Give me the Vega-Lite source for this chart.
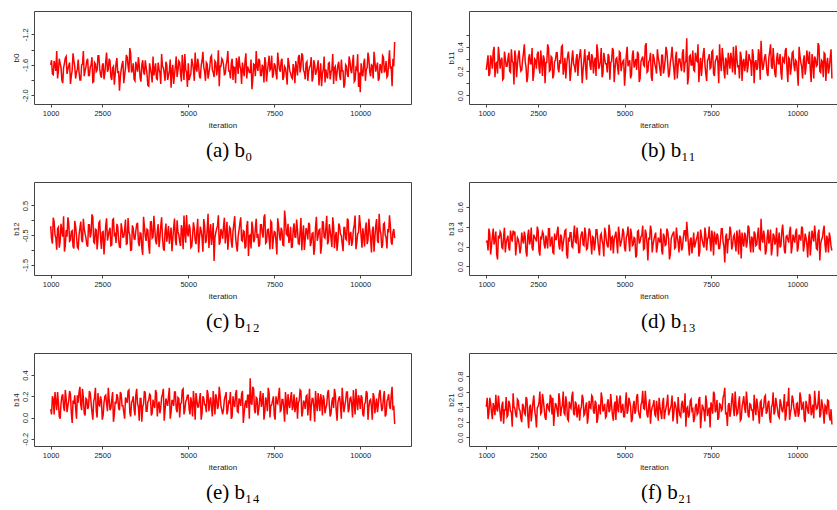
{
"$schema":"https://vega.github.io/schema/vega-lite/v6.json",
"autosize":"pad",
"padding":{"left":11,"top":10,"right":0,"bottom":0},
"background":"white",
"data":{"values":[
{"i":1000,"a":-1.60,"b":0.21,"c":-0.20,"d":0.24,"e":0.08,"f":0.40},
{"i":1050,"a":-1.72,"b":0.33,"c":-0.78,"d":0.16,"e":0.20,"f":0.24},
{"i":1100,"a":-1.55,"b":0.18,"c":-0.05,"d":0.33,"e":0.03,"f":0.52},
{"i":1150,"a":-1.68,"b":0.29,"c":-0.60,"d":0.21,"e":0.15,"f":0.33},
{"i":1200,"a":-1.78,"b":0.36,"c":-0.28,"d":0.38,"e":0.24,"f":0.45},
{"i":1250,"a":-1.52,"b":0.15,"c":-0.92,"d":0.27,"e":0.01,"f":0.29},
{"i":1300,"a":-1.63,"b":0.27,"c":-0.12,"d":0.12,"e":0.13,"f":0.38},
{"i":1350,"a":-1.84,"b":0.40,"c":-0.55,"d":0.31,"e":0.22,"f":0.55},
{"i":1400,"a":-1.58,"b":0.22,"c":-1.05,"d":0.35,"e":0.06,"f":0.31},
{"i":1450,"a":-1.49,"b":0.31,"c":-0.33,"d":0.19,"e":0.18,"f":0.42},
{"i":1500,"a":-1.66,"b":0.14,"c":0.10,"d":0.30,"e":0.11,"f":0.18},
{"i":1550,"a":-1.57,"b":0.30,"c":-0.70,"d":0.14,"e":0.25,"f":0.36},
{"i":1600,"a":-1.75,"b":0.24,"c":-0.38,"d":0.28,"e":0.04,"f":0.27},
{"i":1650,"a":-1.45,"b":0.35,"c":-0.88,"d":0.19,"e":0.16,"f":0.48},
{"i":1700,"a":-1.62,"b":0.19,"c":-0.02,"d":0.36,"e":0.21,"f":0.34},
{"i":1750,"a":-1.70,"b":0.28,"c":-0.52,"d":0.25,"e":-0.01,"f":0.14},
{"i":1800,"a":-1.53,"b":0.09,"c":-0.95,"d":0.33,"e":0.14,"f":0.40},
{"i":1850,"a":-1.80,"b":0.32,"c":-0.25,"d":0.11,"e":0.29,"f":0.30},
{"i":1900,"a":-1.60,"b":0.25,"c":-0.66,"d":0.29,"e":0.07,"f":0.50},
{"i":1950,"a":-1.42,"b":0.37,"c":0.05,"d":0.22,"e":0.19,"f":0.37},
{"i":2000,"a":-1.68,"b":0.20,"c":-0.45,"d":0.19,"e":0.02,"f":0.25},
{"i":2050,"a":-1.55,"b":0.29,"c":-0.82,"d":0.27,"e":0.17,"f":0.44},
{"i":2100,"a":-1.74,"b":0.42,"c":-0.15,"d":0.35,"e":0.10,"f":0.32},
{"i":2150,"a":-1.63,"b":0.23,"c":-0.58,"d":0.14,"e":0.23,"f":0.53},
{"i":2200,"a":-1.50,"b":0.16,"c":0.20,"d":0.31,"e":0.05,"f":0.28},
{"i":2250,"a":-1.82,"b":0.34,"c":-0.73,"d":0.22,"e":0.15,"f":0.39},
{"i":2300,"a":-1.59,"b":0.26,"c":-0.30,"d":0.39,"e":0.28,"f":0.21},
{"i":2350,"a":-1.67,"b":0.12,"c":-0.98,"d":0.16,"e":0.00,"f":0.46},
{"i":2400,"a":-1.48,"b":0.30,"c":-0.08,"d":0.29,"e":0.12,"f":0.35},
{"i":2450,"a":-1.73,"b":0.22,"c":-0.62,"d":0.25,"e":0.20,"f":0.13},
{"i":2500,"a":-1.61,"b":0.36,"c":-0.40,"d":0.36,"e":-0.02,"f":0.41},
{"i":2550,"a":-1.79,"b":0.18,"c":-1.15,"d":0.11,"e":0.14,"f":0.60},
{"i":2600,"a":-1.56,"b":0.28,"c":-0.18,"d":0.28,"e":0.21,"f":0.33},
{"i":2650,"a":-1.69,"b":0.33,"c":-0.68,"d":0.33,"e":0.06,"f":0.49},
{"i":2700,"a":-1.52,"b":0.10,"c":-0.35,"d":0.18,"e":0.17,"f":0.26},
{"i":2750,"a":-1.76,"b":0.27,"c":-0.85,"d":0.26,"e":0.09,"f":0.43},
{"i":2800,"a":-1.64,"b":0.39,"c":0.02,"d":0.38,"e":0.24,"f":0.37},
{"i":2850,"a":-1.86,"b":0.21,"c":-0.50,"d":0.20,"e":0.03,"f":0.56},
{"i":2900,"a":-1.58,"b":0.31,"c":-0.76,"d":0.30,"e":0.13,"f":0.30},
{"i":2950,"a":-1.71,"b":0.17,"c":-0.22,"d":0.13,"e":0.19,"f":0.15},
{"i":3000,"a":-1.94,"b":0.29,"c":-0.90,"d":0.27,"e":0.07,"f":0.45},
{"i":3050,"a":-1.66,"b":0.35,"c":-0.10,"d":0.35,"e":0.22,"f":0.35},
{"i":3100,"a":-1.55,"b":0.19,"c":-0.57,"d":0.21,"e":0.11,"f":0.58},
{"i":3150,"a":-1.74,"b":0.26,"c":-0.32,"d":0.32,"e":-0.01,"f":0.28},
{"i":3200,"a":-1.47,"b":0.41,"c":-0.80,"d":0.15,"e":0.16,"f":0.42},
{"i":3250,"a":-1.62,"b":0.23,"c":0.08,"d":0.29,"e":0.25,"f":0.32},
{"i":3300,"a":-1.38,"b":0.14,"c":-0.48,"d":0.37,"e":0.05,"f":0.54},
{"i":3350,"a":-1.70,"b":0.32,"c":-1.00,"d":0.08,"e":0.14,"f":0.24},
{"i":3400,"a":-1.58,"b":0.28,"c":-0.26,"d":0.25,"e":0.20,"f":0.47},
{"i":3450,"a":-1.81,"b":0.20,"c":-0.64,"d":0.34,"e":0.02,"f":0.38},
{"i":3500,"a":-1.63,"b":0.37,"c":-0.14,"d":0.19,"e":0.27,"f":0.60},
{"i":3550,"a":-1.50,"b":0.24,"c":-0.74,"d":0.41,"e":0.10,"f":0.29},
{"i":3600,"a":-1.77,"b":0.30,"c":-0.42,"d":0.24,"e":0.18,"f":0.44},
{"i":3650,"a":-1.60,"b":0.16,"c":-0.94,"d":0.30,"e":-0.04,"f":0.36},
{"i":3700,"a":-1.69,"b":0.33,"c":0.12,"d":0.14,"e":0.13,"f":0.22},
{"i":3750,"a":-1.54,"b":0.27,"c":-0.53,"d":0.33,"e":0.23,"f":0.40},
{"i":3800,"a":-1.72,"b":0.21,"c":-0.30,"d":0.22,"e":0.06,"f":0.51},
{"i":3850,"a":-1.88,"b":0.38,"c":-0.86,"d":0.39,"e":0.16,"f":0.31},
{"i":3900,"a":-1.65,"b":0.13,"c":-0.06,"d":0.17,"e":0.21,"f":0.46},
{"i":3950,"a":-1.83,"b":0.29,"c":-0.60,"d":0.28,"e":0.04,"f":0.27},
{"i":4000,"a":-1.74,"b":0.25,"c":0.15,"d":0.36,"e":0.12,"f":0.39},
{"i":4050,"a":-1.58,"b":0.34,"c":-0.69,"d":0.12,"e":0.26,"f":0.55},
{"i":4100,"a":-1.79,"b":0.18,"c":-0.36,"d":0.29,"e":0.01,"f":0.34},
{"i":4150,"a":-1.66,"b":0.31,"c":-0.90,"d":0.23,"e":0.15,"f":0.48},
{"i":4200,"a":-1.85,"b":0.42,"c":-0.19,"d":0.37,"e":0.09,"f":0.19},
{"i":4250,"a":-1.62,"b":0.22,"c":-0.56,"d":0.18,"e":0.22,"f":0.43},
{"i":4300,"a":-1.71,"b":0.28,"c":-1.02,"d":0.31,"e":-0.03,"f":0.30},
{"i":4350,"a":-1.56,"b":0.15,"c":-0.11,"d":0.26,"e":0.18,"f":0.52},
{"i":4400,"a":-1.80,"b":0.35,"c":-0.47,"d":0.10,"e":0.11,"f":0.37},
{"i":4450,"a":-1.68,"b":0.26,"c":-0.79,"d":0.34,"e":0.28,"f":0.26},
{"i":4500,"a":-1.90,"b":0.19,"c":-0.24,"d":0.21,"e":0.05,"f":0.45},
{"i":4550,"a":-1.60,"b":0.32,"c":-0.63,"d":0.42,"e":0.16,"f":0.33},
{"i":4600,"a":-1.73,"b":0.27,"c":0.06,"d":0.16,"e":0.24,"f":0.57},
{"i":4650,"a":-1.49,"b":0.39,"c":-0.84,"d":0.30,"e":0.08,"f":0.29},
{"i":4700,"a":-1.67,"b":0.11,"c":-0.39,"d":0.27,"e":0.19,"f":0.41},
{"i":4750,"a":-1.57,"b":0.30,"c":-0.72,"d":0.35,"e":0.00,"f":0.23},
{"i":4800,"a":-1.82,"b":0.23,"c":-0.16,"d":0.13,"e":0.14,"f":0.38},
{"i":4850,"a":-1.64,"b":0.36,"c":-0.97,"d":0.32,"e":0.27,"f":0.50},
{"i":4900,"a":-1.46,"b":0.20,"c":-0.44,"d":0.24,"e":0.07,"f":0.32},
{"i":4950,"a":-1.70,"b":0.28,"c":0.18,"d":0.38,"e":0.17,"f":0.44},
{"i":5000,"a":-1.58,"b":0.08,"c":-0.54,"d":0.19,"e":0.21,"f":0.27},
{"i":5050,"a":-1.75,"b":0.33,"c":-0.27,"d":0.29,"e":0.03,"f":0.59},
{"i":5100,"a":-1.52,"b":0.24,"c":-0.88,"d":0.40,"e":0.13,"f":0.36},
{"i":5150,"a":-1.66,"b":0.29,"c":-0.07,"d":0.15,"e":0.25,"f":0.47},
{"i":5200,"a":-1.44,"b":0.17,"c":-0.66,"d":0.33,"e":-0.02,"f":0.20},
{"i":5250,"a":-1.69,"b":0.37,"c":-0.34,"d":0.22,"e":0.16,"f":0.42},
{"i":5300,"a":-1.60,"b":0.26,"c":-1.08,"d":0.28,"e":0.10,"f":0.31},
{"i":5350,"a":-1.78,"b":0.21,"c":-0.21,"d":0.11,"e":0.23,"f":0.53},
{"i":5400,"a":-1.55,"b":0.34,"c":-0.58,"d":0.36,"e":0.04,"f":0.35},
{"i":5450,"a":-1.63,"b":0.14,"c":0.04,"d":0.25,"e":0.18,"f":0.25},
{"i":5500,"a":-1.81,"b":0.30,"c":-0.76,"d":0.31,"e":0.12,"f":0.46},
{"i":5550,"a":-1.59,"b":0.25,"c":-0.31,"d":0.17,"e":0.26,"f":0.38},
{"i":5600,"a":-1.71,"b":0.41,"c":-0.93,"d":0.37,"e":0.06,"f":0.61},
{"i":5650,"a":-1.50,"b":0.19,"c":-0.13,"d":0.23,"e":0.19,"f":0.30},
{"i":5700,"a":-1.67,"b":0.28,"c":-0.50,"d":0.29,"e":0.01,"f":0.43},
{"i":5750,"a":-1.76,"b":0.35,"c":-1.37,"d":0.41,"e":0.15,"f":0.18},
{"i":5800,"a":-1.57,"b":0.12,"c":-0.41,"d":0.14,"e":0.22,"f":0.40},
{"i":5850,"a":-1.65,"b":0.31,"c":-0.18,"d":0.27,"e":0.08,"f":0.49},
{"i":5900,"a":-1.88,"b":0.23,"c":-0.82,"d":0.34,"e":0.29,"f":0.28},
{"i":5950,"a":-1.62,"b":0.38,"c":-0.29,"d":0.20,"e":0.11,"f":0.37},
{"i":6000,"a":-1.54,"b":0.27,"c":-0.62,"d":0.26,"e":0.03,"f":0.52},
{"i":6050,"a":-1.73,"b":0.16,"c":0.09,"d":0.38,"e":0.17,"f":0.32},
{"i":6100,"a":-1.60,"b":0.33,"c":-0.47,"d":0.12,"e":0.24,"f":0.45},
{"i":6150,"a":-1.42,"b":0.22,"c":-0.99,"d":0.30,"e":0.07,"f":0.24},
{"i":6200,"a":-1.68,"b":0.40,"c":-0.23,"d":0.22,"e":0.14,"f":0.39},
{"i":6250,"a":-1.58,"b":0.26,"c":-0.71,"d":0.35,"e":-0.01,"f":0.56},
{"i":6300,"a":-1.80,"b":0.18,"c":-0.37,"d":0.07,"e":0.20,"f":0.34},
{"i":6350,"a":-1.64,"b":0.32,"c":0.14,"d":0.28,"e":0.10,"f":0.42},
{"i":6400,"a":-1.51,"b":0.29,"c":-0.85,"d":0.33,"e":0.26,"f":0.21},
{"i":6450,"a":-1.72,"b":0.13,"c":-0.55,"d":0.18,"e":0.05,"f":0.47},
{"i":6500,"a":-1.61,"b":0.36,"c":-0.10,"d":0.39,"e":0.16,"f":0.36},
{"i":6550,"a":-1.85,"b":0.24,"c":-0.67,"d":0.24,"e":0.22,"f":0.53},
{"i":6600,"a":-1.67,"b":0.30,"c":-0.35,"d":0.31,"e":-0.05,"f":0.29},
{"i":6650,"a":-1.55,"b":0.20,"c":-0.95,"d":0.16,"e":0.13,"f":0.44},
{"i":6700,"a":-1.78,"b":0.38,"c":-0.20,"d":0.29,"e":0.09,"f":0.33},
{"i":6750,"a":-1.66,"b":0.27,"c":-1.20,"d":0.36,"e":0.21,"f":0.58},
{"i":6800,"a":-1.70,"b":0.47,"c":-0.49,"d":0.45,"e":0.37,"f":0.38},
{"i":6850,"a":-1.92,"b":0.15,"c":-0.04,"d":0.21,"e":0.12,"f":0.26},
{"i":6900,"a":-1.59,"b":0.33,"c":-0.74,"d":0.27,"e":0.27,"f":0.48},
{"i":6950,"a":-1.75,"b":0.25,"c":-0.28,"d":0.13,"e":0.04,"f":0.35},
{"i":7000,"a":-1.63,"b":0.21,"c":-0.59,"d":0.34,"e":0.18,"f":0.20},
{"i":7050,"a":-1.52,"b":0.35,"c":-0.89,"d":0.23,"e":0.08,"f":0.41},
{"i":7100,"a":-1.74,"b":0.28,"c":-0.15,"d":0.30,"e":0.25,"f":0.30},
{"i":7150,"a":-1.60,"b":0.11,"c":-0.43,"d":0.10,"e":0.14,"f":0.50},
{"i":7200,"a":-1.83,"b":0.31,"c":0.11,"d":0.37,"e":-0.02,"f":0.12},
{"i":7250,"a":-1.57,"b":0.26,"c":-0.77,"d":0.26,"e":0.19,"f":0.43},
{"i":7300,"a":-1.69,"b":0.39,"c":-0.32,"d":0.19,"e":0.06,"f":0.34},
{"i":7350,"a":-1.48,"b":0.18,"c":-0.61,"d":0.32,"e":0.23,"f":0.55},
{"i":7400,"a":-1.65,"b":0.29,"c":-0.03,"d":0.28,"e":0.11,"f":0.28},
{"i":7450,"a":-1.77,"b":0.34,"c":-0.96,"d":0.40,"e":0.16,"f":0.39},
{"i":7500,"a":-1.58,"b":0.23,"c":-0.38,"d":0.15,"e":0.02,"f":0.46},
{"i":7550,"a":-1.71,"b":0.37,"c":-0.70,"d":0.29,"e":0.20,"f":0.31},
{"i":7600,"a":-1.44,"b":0.16,"c":0.07,"d":0.35,"e":0.13,"f":0.57},
{"i":7650,"a":-1.66,"b":0.30,"c":-0.52,"d":0.22,"e":0.28,"f":0.37},
{"i":7700,"a":-1.55,"b":0.27,"c":-0.25,"d":0.31,"e":0.07,"f":0.23},
{"i":7750,"a":-1.80,"b":0.42,"c":-0.83,"d":0.18,"e":0.17,"f":0.44},
{"i":7800,"a":-1.62,"b":0.20,"c":0.33,"d":0.38,"e":-0.04,"f":0.35},
{"i":7850,"a":-1.73,"b":0.32,"c":-0.46,"d":0.25,"e":0.15,"f":0.52},
{"i":7900,"a":-1.51,"b":0.14,"c":-0.12,"d":0.04,"e":0.22,"f":0.65},
{"i":7950,"a":-1.68,"b":0.28,"c":-0.65,"d":0.33,"e":0.09,"f":0.33},
{"i":8000,"a":-1.76,"b":0.35,"c":-0.91,"d":0.27,"e":0.24,"f":0.42},
{"i":8050,"a":-1.59,"b":0.22,"c":-0.30,"d":0.40,"e":0.11,"f":0.27},
{"i":8100,"a":-1.84,"b":0.29,"c":-0.56,"d":0.17,"e":0.05,"f":0.49},
{"i":8150,"a":-1.64,"b":0.40,"c":0.03,"d":0.30,"e":0.19,"f":0.38},
{"i":8200,"a":-1.50,"b":0.17,"c":-0.78,"d":0.23,"e":0.14,"f":0.60},
{"i":8250,"a":-1.70,"b":0.31,"c":-0.40,"d":0.36,"e":0.26,"f":0.30},
{"i":8300,"a":-1.45,"b":0.25,"c":-1.01,"d":0.12,"e":0.01,"f":0.45},
{"i":8350,"a":-1.67,"b":0.36,"c":-0.17,"d":0.29,"e":0.16,"f":0.22},
{"i":8400,"a":-1.79,"b":0.12,"c":-0.63,"d":0.34,"e":0.08,"f":0.40},
{"i":8450,"a":-1.56,"b":0.30,"c":-0.36,"d":0.20,"e":0.21,"f":0.54},
{"i":8500,"a":-1.69,"b":0.26,"c":-0.08,"d":0.31,"e":0.13,"f":0.32},
{"i":8550,"a":-1.61,"b":0.19,"c":-0.87,"d":0.25,"e":-0.03,"f":0.47},
{"i":8600,"a":-1.82,"b":0.34,"c":-0.44,"d":0.39,"e":0.18,"f":0.26},
{"i":8650,"a":-1.54,"b":0.28,"c":-1.16,"d":0.14,"e":0.10,"f":0.43},
{"i":8700,"a":-1.73,"b":0.38,"c":-0.22,"d":0.28,"e":0.25,"f":0.36},
{"i":8750,"a":-1.63,"b":0.10,"c":-0.69,"d":0.35,"e":0.06,"f":0.56},
{"i":8800,"a":-1.87,"b":0.29,"c":-0.33,"d":0.21,"e":0.15,"f":0.29},
{"i":8850,"a":-1.58,"b":0.23,"c":-1.12,"d":0.32,"e":0.22,"f":0.41},
{"i":8900,"a":-1.72,"b":0.33,"c":-0.05,"d":0.18,"e":0.02,"f":0.18},
{"i":8950,"a":-1.49,"b":0.45,"c":-0.57,"d":0.48,"e":0.17,"f":0.48},
{"i":9000,"a":-1.66,"b":0.21,"c":-0.27,"d":0.24,"e":0.09,"f":0.38},
{"i":9050,"a":-1.78,"b":0.31,"c":-0.81,"d":0.30,"e":0.23,"f":0.53},
{"i":9100,"a":-1.57,"b":0.27,"c":-0.13,"d":0.16,"e":0.12,"f":0.31},
{"i":9150,"a":-1.70,"b":0.16,"c":-0.60,"d":0.37,"e":0.04,"f":0.45},
{"i":9200,"a":-1.46,"b":0.36,"c":0.10,"d":0.27,"e":0.19,"f":0.25},
{"i":9250,"a":-1.64,"b":0.24,"c":-0.94,"d":0.11,"e":0.27,"f":0.40},
{"i":9300,"a":-1.81,"b":0.39,"c":-0.39,"d":0.33,"e":0.07,"f":0.59},
{"i":9350,"a":-1.60,"b":0.18,"c":-0.72,"d":0.22,"e":0.14,"f":0.34},
{"i":9400,"a":-1.74,"b":0.30,"c":-0.19,"d":0.39,"e":0.20,"f":0.44},
{"i":9450,"a":-1.53,"b":0.26,"c":-0.51,"d":0.26,"e":-0.01,"f":0.28},
{"i":9500,"a":-1.68,"b":0.34,"c":-1.04,"d":0.19,"e":0.16,"f":0.50},
{"i":9550,"a":-1.85,"b":0.13,"c":-0.24,"d":0.35,"e":0.11,"f":0.36},
{"i":9600,"a":-1.62,"b":0.28,"c":-0.66,"d":0.29,"e":0.24,"f":0.42},
{"i":9650,"a":-1.76,"b":0.37,"c":0.00,"d":0.13,"e":0.05,"f":0.22},
{"i":9700,"a":-1.55,"b":0.22,"c":-0.48,"d":0.31,"e":0.18,"f":0.47},
{"i":9750,"a":-1.71,"b":0.31,"c":-0.86,"d":0.24,"e":0.13,"f":0.65},
{"i":9800,"a":-1.47,"b":0.17,"c":-0.31,"d":0.40,"e":0.26,"f":0.33},
{"i":9850,"a":-1.80,"b":0.35,"c":0.16,"d":0.20,"e":0.03,"f":0.55},
{"i":9900,"a":-1.66,"b":0.25,"c":-0.75,"d":0.28,"e":0.15,"f":0.39},
{"i":9950,"a":-1.89,"b":0.29,"c":-0.42,"d":0.34,"e":0.21,"f":0.27},
{"i":10000,"a":-1.96,"b":0.19,"c":-0.14,"d":0.15,"e":0.08,"f":0.45},
{"i":10050,"a":-1.72,"b":0.40,"c":-0.92,"d":0.32,"e":0.19,"f":0.31},
{"i":10100,"a":-1.58,"b":0.27,"c":-0.53,"d":0.26,"e":0.01,"f":0.52},
{"i":10150,"a":-1.81,"b":0.14,"c":-0.26,"d":0.38,"e":0.14,"f":0.40},
{"i":10200,"a":-1.64,"b":0.33,"c":-0.80,"d":0.21,"e":0.23,"f":0.24},
{"i":10250,"a":-1.52,"b":0.23,"c":0.05,"d":0.29,"e":0.10,"f":0.48},
{"i":10300,"a":-1.75,"b":0.30,"c":-0.61,"d":0.09,"e":0.17,"f":0.35},
{"i":10350,"a":-1.61,"b":0.36,"c":-0.35,"d":0.35,"e":-0.02,"f":0.57},
{"i":10400,"a":-1.43,"b":0.11,"c":-1.06,"d":0.23,"e":0.20,"f":0.29},
{"i":10450,"a":-1.69,"b":0.28,"c":-0.18,"d":0.30,"e":0.12,"f":0.43},
{"i":10500,"a":-1.57,"b":0.32,"c":-0.68,"d":0.41,"e":0.05,"f":0.61},
{"i":10550,"a":-1.78,"b":0.24,"c":0.22,"d":0.18,"e":0.22,"f":0.37},
{"i":10600,"a":-1.63,"b":0.43,"c":-0.45,"d":0.33,"e":0.15,"f":0.46},
{"i":10650,"a":-1.48,"b":0.20,"c":-0.83,"d":0.06,"e":0.09,"f":0.26},
{"i":10700,"a":-1.70,"b":0.29,"c":-0.09,"d":0.27,"e":0.25,"f":0.50},
{"i":10750,"a":-1.55,"b":0.15,"c":-0.58,"d":0.36,"e":0.03,"f":0.34},
{"i":10800,"a":-1.74,"b":0.34,"c":-0.29,"d":0.22,"e":0.18,"f":0.42},
{"i":10850,"a":-1.41,"b":0.26,"c":0.17,"d":0.31,"e":0.11,"f":0.30},
{"i":10900,"a":-1.62,"b":0.18,"c":-0.73,"d":0.14,"e":0.21,"f":0.48},
{"i":10950,"a":-1.52,"b":0.31,"c":-0.40,"d":0.29,"e":0.07,"f":0.22},
{"i":11000,"a":-1.30,"b":0.14,"c":-0.60,"d":0.16,"e":-0.06,"f":0.17},
{"i":1025,"a":-1.54,"b":0.27,"c":-0.62,"d":0.26,"e":0.03,"f":0.52},
{"i":1075,"a":-1.73,"b":0.16,"c":0.09,"d":0.38,"e":0.17,"f":0.32},
{"i":1125,"a":-1.60,"b":0.33,"c":-0.47,"d":0.12,"e":0.24,"f":0.45},
{"i":1175,"a":-1.42,"b":0.22,"c":-0.99,"d":0.30,"e":0.07,"f":0.24},
{"i":1225,"a":-1.68,"b":0.40,"c":-0.23,"d":0.22,"e":0.14,"f":0.39},
{"i":1275,"a":-1.58,"b":0.26,"c":-0.71,"d":0.35,"e":-0.01,"f":0.56},
{"i":1325,"a":-1.80,"b":0.18,"c":-0.37,"d":0.07,"e":0.20,"f":0.34},
{"i":1375,"a":-1.64,"b":0.32,"c":0.14,"d":0.28,"e":0.10,"f":0.42},
{"i":1425,"a":-1.51,"b":0.29,"c":-0.85,"d":0.33,"e":0.26,"f":0.21},
{"i":1475,"a":-1.72,"b":0.13,"c":-0.55,"d":0.18,"e":0.05,"f":0.47},
{"i":1525,"a":-1.61,"b":0.36,"c":-0.10,"d":0.39,"e":0.16,"f":0.36},
{"i":1575,"a":-1.85,"b":0.24,"c":-0.67,"d":0.24,"e":0.22,"f":0.53},
{"i":1625,"a":-1.67,"b":0.30,"c":-0.35,"d":0.31,"e":-0.05,"f":0.29},
{"i":1675,"a":-1.55,"b":0.20,"c":-0.95,"d":0.16,"e":0.13,"f":0.44},
{"i":1725,"a":-1.78,"b":0.38,"c":-0.20,"d":0.29,"e":0.09,"f":0.33},
{"i":1775,"a":-1.66,"b":0.27,"c":-0.90,"d":0.36,"e":0.21,"f":0.58},
{"i":1825,"a":-1.70,"b":0.37,"c":-0.49,"d":0.35,"e":0.24,"f":0.38},
{"i":1875,"a":-1.80,"b":0.15,"c":-0.04,"d":0.21,"e":0.12,"f":0.26},
{"i":1925,"a":-1.59,"b":0.33,"c":-0.74,"d":0.27,"e":0.27,"f":0.48},
{"i":1975,"a":-1.75,"b":0.25,"c":-0.28,"d":0.13,"e":0.04,"f":0.35},
{"i":2025,"a":-1.63,"b":0.21,"c":-0.59,"d":0.34,"e":0.18,"f":0.20},
{"i":2075,"a":-1.52,"b":0.35,"c":-0.89,"d":0.23,"e":0.08,"f":0.41},
{"i":2125,"a":-1.74,"b":0.28,"c":-0.15,"d":0.30,"e":0.25,"f":0.30},
{"i":2175,"a":-1.60,"b":0.11,"c":-0.43,"d":0.10,"e":0.14,"f":0.50},
{"i":2225,"a":-1.83,"b":0.31,"c":0.11,"d":0.37,"e":-0.02,"f":0.12},
{"i":2275,"a":-1.57,"b":0.26,"c":-0.77,"d":0.26,"e":0.19,"f":0.43},
{"i":2325,"a":-1.69,"b":0.39,"c":-0.32,"d":0.19,"e":0.06,"f":0.34},
{"i":2375,"a":-1.48,"b":0.18,"c":-0.61,"d":0.32,"e":0.23,"f":0.55},
{"i":2425,"a":-1.65,"b":0.29,"c":-0.03,"d":0.28,"e":0.11,"f":0.28},
{"i":2475,"a":-1.77,"b":0.34,"c":-0.96,"d":0.40,"e":0.16,"f":0.39},
{"i":2525,"a":-1.58,"b":0.23,"c":-0.38,"d":0.15,"e":0.02,"f":0.46},
{"i":2575,"a":-1.71,"b":0.37,"c":-0.70,"d":0.29,"e":0.20,"f":0.31},
{"i":2625,"a":-1.44,"b":0.16,"c":0.07,"d":0.35,"e":0.13,"f":0.57},
{"i":2675,"a":-1.66,"b":0.30,"c":-0.52,"d":0.22,"e":0.28,"f":0.37},
{"i":2725,"a":-1.55,"b":0.27,"c":-0.25,"d":0.31,"e":0.07,"f":0.23},
{"i":2775,"a":-1.80,"b":0.42,"c":-0.83,"d":0.18,"e":0.17,"f":0.44},
{"i":2825,"a":-1.62,"b":0.20,"c":0.05,"d":0.38,"e":-0.04,"f":0.35},
{"i":2875,"a":-1.73,"b":0.32,"c":-0.46,"d":0.25,"e":0.15,"f":0.52},
{"i":2925,"a":-1.51,"b":0.14,"c":-0.12,"d":0.14,"e":0.22,"f":0.52},
{"i":2975,"a":-1.68,"b":0.28,"c":-0.65,"d":0.33,"e":0.09,"f":0.33},
{"i":3025,"a":-1.76,"b":0.35,"c":-0.91,"d":0.27,"e":0.24,"f":0.42},
{"i":3075,"a":-1.59,"b":0.22,"c":-0.30,"d":0.40,"e":0.11,"f":0.27},
{"i":3125,"a":-1.84,"b":0.29,"c":-0.56,"d":0.17,"e":0.05,"f":0.49},
{"i":3175,"a":-1.64,"b":0.40,"c":0.03,"d":0.30,"e":0.19,"f":0.38},
{"i":3225,"a":-1.50,"b":0.17,"c":-0.78,"d":0.23,"e":0.14,"f":0.60},
{"i":3275,"a":-1.70,"b":0.31,"c":-0.40,"d":0.36,"e":0.26,"f":0.30},
{"i":3325,"a":-1.45,"b":0.25,"c":-1.01,"d":0.12,"e":0.01,"f":0.45},
{"i":3375,"a":-1.67,"b":0.36,"c":-0.17,"d":0.29,"e":0.16,"f":0.22},
{"i":3425,"a":-1.79,"b":0.12,"c":-0.63,"d":0.34,"e":0.08,"f":0.40},
{"i":3475,"a":-1.56,"b":0.30,"c":-0.36,"d":0.20,"e":0.21,"f":0.54},
{"i":3525,"a":-1.69,"b":0.26,"c":-0.08,"d":0.31,"e":0.13,"f":0.32},
{"i":3575,"a":-1.61,"b":0.19,"c":-0.87,"d":0.25,"e":-0.03,"f":0.47},
{"i":3625,"a":-1.82,"b":0.34,"c":-0.44,"d":0.39,"e":0.18,"f":0.26},
{"i":3675,"a":-1.54,"b":0.28,"c":-1.16,"d":0.14,"e":0.10,"f":0.43},
{"i":3725,"a":-1.73,"b":0.38,"c":-0.22,"d":0.28,"e":0.25,"f":0.36},
{"i":3775,"a":-1.63,"b":0.10,"c":-0.69,"d":0.35,"e":0.06,"f":0.56},
{"i":3825,"a":-1.87,"b":0.29,"c":-0.33,"d":0.21,"e":0.15,"f":0.29},
{"i":3875,"a":-1.58,"b":0.23,"c":-1.12,"d":0.32,"e":0.22,"f":0.41},
{"i":3925,"a":-1.72,"b":0.33,"c":-0.05,"d":0.18,"e":0.02,"f":0.18},
{"i":3975,"a":-1.49,"b":0.36,"c":-0.57,"d":0.38,"e":0.17,"f":0.48},
{"i":4025,"a":-1.66,"b":0.21,"c":-0.27,"d":0.24,"e":0.09,"f":0.38},
{"i":4075,"a":-1.78,"b":0.31,"c":-0.81,"d":0.30,"e":0.23,"f":0.53},
{"i":4125,"a":-1.57,"b":0.27,"c":-0.13,"d":0.16,"e":0.12,"f":0.31},
{"i":4175,"a":-1.70,"b":0.16,"c":-0.60,"d":0.37,"e":0.04,"f":0.45},
{"i":4225,"a":-1.46,"b":0.36,"c":0.10,"d":0.27,"e":0.19,"f":0.25},
{"i":4275,"a":-1.64,"b":0.24,"c":-0.94,"d":0.11,"e":0.27,"f":0.40},
{"i":4325,"a":-1.81,"b":0.39,"c":-0.39,"d":0.33,"e":0.07,"f":0.59},
{"i":4375,"a":-1.60,"b":0.18,"c":-0.72,"d":0.22,"e":0.14,"f":0.34},
{"i":4425,"a":-1.74,"b":0.30,"c":-0.19,"d":0.39,"e":0.20,"f":0.44},
{"i":4475,"a":-1.53,"b":0.26,"c":-0.51,"d":0.26,"e":-0.01,"f":0.28},
{"i":4525,"a":-1.68,"b":0.34,"c":-1.04,"d":0.19,"e":0.16,"f":0.50},
{"i":4575,"a":-1.85,"b":0.13,"c":-0.24,"d":0.35,"e":0.11,"f":0.36},
{"i":4625,"a":-1.62,"b":0.28,"c":-0.66,"d":0.29,"e":0.24,"f":0.42},
{"i":4675,"a":-1.76,"b":0.37,"c":0.00,"d":0.13,"e":0.05,"f":0.22},
{"i":4725,"a":-1.55,"b":0.22,"c":-0.48,"d":0.31,"e":0.18,"f":0.47},
{"i":4775,"a":-1.71,"b":0.31,"c":-0.86,"d":0.24,"e":0.13,"f":0.55},
{"i":4825,"a":-1.47,"b":0.17,"c":-0.31,"d":0.40,"e":0.26,"f":0.33},
{"i":4875,"a":-1.80,"b":0.35,"c":0.16,"d":0.20,"e":0.03,"f":0.55},
{"i":4925,"a":-1.66,"b":0.25,"c":-0.75,"d":0.28,"e":0.15,"f":0.39},
{"i":4975,"a":-1.89,"b":0.29,"c":-0.42,"d":0.34,"e":0.21,"f":0.27},
{"i":5025,"a":-1.80,"b":0.19,"c":-0.14,"d":0.15,"e":0.08,"f":0.45},
{"i":5075,"a":-1.72,"b":0.40,"c":-0.92,"d":0.32,"e":0.19,"f":0.31},
{"i":5125,"a":-1.58,"b":0.27,"c":-0.53,"d":0.26,"e":0.01,"f":0.52},
{"i":5175,"a":-1.81,"b":0.14,"c":-0.26,"d":0.38,"e":0.14,"f":0.40},
{"i":5225,"a":-1.64,"b":0.33,"c":-0.80,"d":0.21,"e":0.23,"f":0.24},
{"i":5275,"a":-1.52,"b":0.23,"c":0.05,"d":0.29,"e":0.10,"f":0.48},
{"i":5325,"a":-1.75,"b":0.30,"c":-0.61,"d":0.09,"e":0.17,"f":0.35},
{"i":5375,"a":-1.61,"b":0.36,"c":-0.35,"d":0.35,"e":-0.02,"f":0.57},
{"i":5425,"a":-1.43,"b":0.11,"c":-1.06,"d":0.23,"e":0.20,"f":0.29},
{"i":5475,"a":-1.69,"b":0.28,"c":-0.18,"d":0.30,"e":0.12,"f":0.43},
{"i":5525,"a":-1.57,"b":0.32,"c":-0.68,"d":0.41,"e":0.05,"f":0.61},
{"i":5575,"a":-1.78,"b":0.24,"c":0.22,"d":0.18,"e":0.22,"f":0.37},
{"i":5625,"a":-1.63,"b":0.43,"c":-0.45,"d":0.33,"e":0.15,"f":0.46},
{"i":5675,"a":-1.48,"b":0.20,"c":-0.83,"d":0.06,"e":0.09,"f":0.26},
{"i":5725,"a":-1.70,"b":0.29,"c":-0.09,"d":0.27,"e":0.25,"f":0.50},
{"i":5775,"a":-1.55,"b":0.15,"c":-0.58,"d":0.36,"e":0.03,"f":0.34},
{"i":5825,"a":-1.74,"b":0.34,"c":-0.29,"d":0.22,"e":0.18,"f":0.42},
{"i":5875,"a":-1.41,"b":0.26,"c":0.17,"d":0.31,"e":0.11,"f":0.30},
{"i":5925,"a":-1.62,"b":0.18,"c":-0.73,"d":0.14,"e":0.21,"f":0.48},
{"i":5975,"a":-1.52,"b":0.31,"c":-0.40,"d":0.29,"e":0.07,"f":0.22},
{"i":6025,"a":-1.60,"b":0.21,"c":-0.20,"d":0.24,"e":0.08,"f":0.40},
{"i":6075,"a":-1.72,"b":0.33,"c":-0.78,"d":0.16,"e":0.20,"f":0.24},
{"i":6125,"a":-1.55,"b":0.18,"c":-0.05,"d":0.33,"e":0.03,"f":0.52},
{"i":6175,"a":-1.68,"b":0.29,"c":-0.60,"d":0.21,"e":0.15,"f":0.33},
{"i":6225,"a":-1.78,"b":0.36,"c":-0.28,"d":0.38,"e":0.24,"f":0.45},
{"i":6275,"a":-1.52,"b":0.15,"c":-0.92,"d":0.27,"e":0.01,"f":0.29},
{"i":6325,"a":-1.63,"b":0.27,"c":-0.12,"d":0.12,"e":0.13,"f":0.38},
{"i":6375,"a":-1.84,"b":0.40,"c":-0.55,"d":0.31,"e":0.22,"f":0.55},
{"i":6425,"a":-1.58,"b":0.22,"c":-1.05,"d":0.35,"e":0.06,"f":0.31},
{"i":6475,"a":-1.49,"b":0.31,"c":-0.33,"d":0.19,"e":0.18,"f":0.42},
{"i":6525,"a":-1.66,"b":0.14,"c":0.10,"d":0.30,"e":0.11,"f":0.18},
{"i":6575,"a":-1.57,"b":0.30,"c":-0.70,"d":0.14,"e":0.25,"f":0.36},
{"i":6625,"a":-1.75,"b":0.24,"c":-0.38,"d":0.28,"e":0.04,"f":0.27},
{"i":6675,"a":-1.45,"b":0.35,"c":-0.88,"d":0.19,"e":0.16,"f":0.48},
{"i":6725,"a":-1.62,"b":0.19,"c":-0.02,"d":0.36,"e":0.21,"f":0.34},
{"i":6775,"a":-1.70,"b":0.28,"c":-0.52,"d":0.25,"e":-0.01,"f":0.14},
{"i":6825,"a":-1.53,"b":0.09,"c":-0.95,"d":0.33,"e":0.14,"f":0.40},
{"i":6875,"a":-1.80,"b":0.32,"c":-0.25,"d":0.11,"e":0.29,"f":0.30},
{"i":6925,"a":-1.60,"b":0.25,"c":-0.66,"d":0.29,"e":0.07,"f":0.50},
{"i":6975,"a":-1.42,"b":0.37,"c":0.05,"d":0.22,"e":0.19,"f":0.37},
{"i":7025,"a":-1.68,"b":0.20,"c":-0.45,"d":0.19,"e":0.02,"f":0.25},
{"i":7075,"a":-1.55,"b":0.29,"c":-0.82,"d":0.27,"e":0.17,"f":0.44},
{"i":7125,"a":-1.74,"b":0.42,"c":-0.15,"d":0.35,"e":0.10,"f":0.32},
{"i":7175,"a":-1.63,"b":0.23,"c":-0.58,"d":0.14,"e":0.23,"f":0.53},
{"i":7225,"a":-1.50,"b":0.16,"c":0.20,"d":0.31,"e":0.05,"f":0.28},
{"i":7275,"a":-1.82,"b":0.34,"c":-0.73,"d":0.22,"e":0.15,"f":0.39},
{"i":7325,"a":-1.59,"b":0.26,"c":-0.30,"d":0.39,"e":0.28,"f":0.21},
{"i":7375,"a":-1.67,"b":0.12,"c":-0.98,"d":0.16,"e":0.00,"f":0.46},
{"i":7425,"a":-1.48,"b":0.30,"c":-0.08,"d":0.29,"e":0.12,"f":0.35},
{"i":7475,"a":-1.73,"b":0.22,"c":-0.62,"d":0.25,"e":0.20,"f":0.13},
{"i":7525,"a":-1.61,"b":0.36,"c":-0.40,"d":0.36,"e":-0.02,"f":0.41},
{"i":7575,"a":-1.79,"b":0.18,"c":-1.15,"d":0.11,"e":0.14,"f":0.60},
{"i":7625,"a":-1.56,"b":0.28,"c":-0.18,"d":0.28,"e":0.21,"f":0.33},
{"i":7675,"a":-1.69,"b":0.33,"c":-0.68,"d":0.33,"e":0.06,"f":0.49},
{"i":7725,"a":-1.52,"b":0.10,"c":-0.35,"d":0.18,"e":0.17,"f":0.26},
{"i":7775,"a":-1.76,"b":0.27,"c":-0.85,"d":0.26,"e":0.09,"f":0.43},
{"i":7825,"a":-1.64,"b":0.39,"c":0.02,"d":0.38,"e":0.24,"f":0.37},
{"i":7875,"a":-1.86,"b":0.21,"c":-0.50,"d":0.20,"e":0.03,"f":0.56},
{"i":7925,"a":-1.58,"b":0.31,"c":-0.76,"d":0.30,"e":0.13,"f":0.30},
{"i":7975,"a":-1.71,"b":0.17,"c":-0.22,"d":0.13,"e":0.19,"f":0.15},
{"i":8025,"a":-1.78,"b":0.29,"c":-0.90,"d":0.27,"e":0.07,"f":0.45},
{"i":8075,"a":-1.66,"b":0.35,"c":-0.10,"d":0.35,"e":0.22,"f":0.35},
{"i":8125,"a":-1.55,"b":0.19,"c":-0.57,"d":0.21,"e":0.11,"f":0.58},
{"i":8175,"a":-1.74,"b":0.26,"c":-0.32,"d":0.32,"e":-0.01,"f":0.28},
{"i":8225,"a":-1.47,"b":0.41,"c":-0.80,"d":0.15,"e":0.16,"f":0.42},
{"i":8275,"a":-1.62,"b":0.23,"c":0.08,"d":0.29,"e":0.25,"f":0.32},
{"i":8325,"a":-1.48,"b":0.14,"c":-0.48,"d":0.37,"e":0.05,"f":0.54},
{"i":8375,"a":-1.70,"b":0.32,"c":-1.00,"d":0.08,"e":0.14,"f":0.24},
{"i":8425,"a":-1.58,"b":0.28,"c":-0.26,"d":0.25,"e":0.20,"f":0.47},
{"i":8475,"a":-1.81,"b":0.20,"c":-0.64,"d":0.34,"e":0.02,"f":0.38},
{"i":8525,"a":-1.63,"b":0.37,"c":-0.14,"d":0.19,"e":0.27,"f":0.60},
{"i":8575,"a":-1.50,"b":0.24,"c":-0.74,"d":0.41,"e":0.10,"f":0.29},
{"i":8625,"a":-1.77,"b":0.30,"c":-0.42,"d":0.24,"e":0.18,"f":0.44},
{"i":8675,"a":-1.60,"b":0.16,"c":-0.94,"d":0.30,"e":-0.04,"f":0.36},
{"i":8725,"a":-1.69,"b":0.33,"c":0.12,"d":0.14,"e":0.13,"f":0.22},
{"i":8775,"a":-1.54,"b":0.27,"c":-0.53,"d":0.33,"e":0.23,"f":0.40},
{"i":8825,"a":-1.72,"b":0.21,"c":-0.30,"d":0.22,"e":0.06,"f":0.51},
{"i":8875,"a":-1.88,"b":0.38,"c":-0.86,"d":0.39,"e":0.16,"f":0.31},
{"i":8925,"a":-1.65,"b":0.13,"c":-0.06,"d":0.17,"e":0.21,"f":0.46},
{"i":8975,"a":-1.83,"b":0.29,"c":-0.60,"d":0.28,"e":0.04,"f":0.27},
{"i":9025,"a":-1.74,"b":0.25,"c":0.15,"d":0.36,"e":0.12,"f":0.39},
{"i":9075,"a":-1.58,"b":0.34,"c":-0.69,"d":0.12,"e":0.26,"f":0.55},
{"i":9125,"a":-1.79,"b":0.18,"c":-0.36,"d":0.29,"e":0.01,"f":0.34},
{"i":9175,"a":-1.66,"b":0.31,"c":-0.90,"d":0.23,"e":0.15,"f":0.48},
{"i":9225,"a":-1.85,"b":0.42,"c":-0.19,"d":0.37,"e":0.09,"f":0.19},
{"i":9275,"a":-1.62,"b":0.22,"c":-0.56,"d":0.18,"e":0.22,"f":0.43},
{"i":9325,"a":-1.71,"b":0.28,"c":-1.02,"d":0.31,"e":-0.03,"f":0.30},
{"i":9375,"a":-1.56,"b":0.15,"c":-0.11,"d":0.26,"e":0.18,"f":0.52},
{"i":9425,"a":-1.80,"b":0.35,"c":-0.47,"d":0.10,"e":0.11,"f":0.37},
{"i":9475,"a":-1.68,"b":0.26,"c":-0.79,"d":0.34,"e":0.28,"f":0.26},
{"i":9525,"a":-1.90,"b":0.19,"c":-0.24,"d":0.21,"e":0.05,"f":0.45},
{"i":9575,"a":-1.60,"b":0.32,"c":-0.63,"d":0.42,"e":0.16,"f":0.33},
{"i":9625,"a":-1.73,"b":0.27,"c":0.06,"d":0.16,"e":0.24,"f":0.57},
{"i":9675,"a":-1.49,"b":0.39,"c":-0.84,"d":0.30,"e":0.08,"f":0.29},
{"i":9725,"a":-1.67,"b":0.11,"c":-0.39,"d":0.27,"e":0.19,"f":0.41},
{"i":9775,"a":-1.57,"b":0.30,"c":-0.72,"d":0.35,"e":0.00,"f":0.23},
{"i":9825,"a":-1.82,"b":0.23,"c":-0.16,"d":0.13,"e":0.14,"f":0.38},
{"i":9875,"a":-1.64,"b":0.36,"c":-0.97,"d":0.32,"e":0.27,"f":0.50},
{"i":9925,"a":-1.46,"b":0.20,"c":-0.44,"d":0.24,"e":0.07,"f":0.32},
{"i":9975,"a":-1.70,"b":0.28,"c":0.18,"d":0.38,"e":0.17,"f":0.44},
{"i":10025,"a":-1.58,"b":0.08,"c":-0.54,"d":0.19,"e":0.21,"f":0.27},
{"i":10075,"a":-1.75,"b":0.33,"c":-0.27,"d":0.29,"e":0.03,"f":0.59},
{"i":10125,"a":-1.52,"b":0.24,"c":-0.88,"d":0.40,"e":0.13,"f":0.36},
{"i":10175,"a":-1.66,"b":0.29,"c":-0.07,"d":0.15,"e":0.25,"f":0.47},
{"i":10225,"a":-1.44,"b":0.17,"c":-0.66,"d":0.33,"e":-0.02,"f":0.20},
{"i":10275,"a":-1.69,"b":0.37,"c":-0.34,"d":0.22,"e":0.16,"f":0.42},
{"i":10325,"a":-1.60,"b":0.26,"c":-1.08,"d":0.28,"e":0.10,"f":0.31},
{"i":10375,"a":-1.78,"b":0.21,"c":-0.21,"d":0.11,"e":0.23,"f":0.53},
{"i":10425,"a":-1.55,"b":0.34,"c":-0.58,"d":0.36,"e":0.04,"f":0.35},
{"i":10475,"a":-1.63,"b":0.14,"c":0.04,"d":0.25,"e":0.18,"f":0.25},
{"i":10525,"a":-1.81,"b":0.30,"c":-0.76,"d":0.31,"e":0.12,"f":0.46},
{"i":10575,"a":-1.59,"b":0.25,"c":-0.31,"d":0.17,"e":0.26,"f":0.38},
{"i":10625,"a":-1.71,"b":0.41,"c":-0.93,"d":0.37,"e":0.06,"f":0.61},
{"i":10675,"a":-1.50,"b":0.19,"c":-0.13,"d":0.23,"e":0.19,"f":0.30},
{"i":10725,"a":-1.67,"b":0.28,"c":-0.50,"d":0.29,"e":0.01,"f":0.43},
{"i":10775,"a":-1.76,"b":0.35,"c":-0.95,"d":0.41,"e":0.15,"f":0.18},
{"i":10825,"a":-1.57,"b":0.12,"c":-0.41,"d":0.14,"e":0.22,"f":0.40},
{"i":10875,"a":-1.65,"b":0.31,"c":-0.18,"d":0.27,"e":0.08,"f":0.49},
{"i":10925,"a":-1.88,"b":0.23,"c":-0.82,"d":0.34,"e":0.29,"f":0.28},
{"i":10975,"a":-1.62,"b":0.38,"c":-0.29,"d":0.20,"e":0.11,"f":0.37}
]},
"concat":[
{"width":377,"height":93,"title":{"text":"(a) b₀"},
 "mark":{"type":"line"},
 "encoding":{
  "x":{"field":"i","type":"quantitative","scale":{"domain":[515,11475],"nice":false,"zero":false},"axis":{"values":[1000,2500,5000,7500,10000],"format":"d","title":"iteration"}},
  "y":{"field":"a","type":"quantitative","scale":{"domain":[-2.114,-0.894],"nice":false,"zero":false},"axis":{"values":[-2,-1.8,-1.6,-1.4,-1.2],"labelExpr":"datum.value==-2?'-2.0':datum.value==-1.6?'-1.6':datum.value==-1.2?'-1.2':''","title":"b0"}}}},
{"width":370,"height":93,"title":{"text":"(b) b₁₁"},
 "mark":{"type":"line"},
 "encoding":{
  "x":{"field":"i","type":"quantitative","scale":{"domain":[499,11205],"nice":false,"zero":false},"axis":{"values":[1000,2500,5000,7500,10000],"format":"d","title":"iteration"}},
  "y":{"field":"b","type":"quantitative","scale":{"domain":[-0.07,0.694],"nice":false,"zero":false},"axis":{"values":[0,0.1,0.2,0.3,0.4,0.5],"labelExpr":"datum.value==0?'0.0':datum.value==0.2?'0.2':datum.value==0.4?'0.4':''","title":"b11"}}}},
{"width":377,"height":93,"title":{"text":"(c) b₁₂"},
 "mark":{"type":"line"},
 "encoding":{
  "x":{"field":"i","type":"quantitative","scale":{"domain":[515,11475],"nice":false,"zero":false},"axis":{"values":[1000,2500,5000,7500,10000],"format":"d","title":"iteration"}},
  "y":{"field":"c","type":"quantitative","scale":{"domain":[-1.84,1.29],"nice":false,"zero":false},"axis":{"values":[-1.5,-1,-0.5,0,0.5],"labelExpr":"datum.value==-1.5?'-1.5':datum.value==-0.5?'-0.5':datum.value==0.5?'0.5':''","title":"b12"}}}},
{"width":370,"height":93,"title":{"text":"(d) b₁₃"},
 "mark":{"type":"line"},
 "encoding":{
  "x":{"field":"i","type":"quantitative","scale":{"domain":[499,11205],"nice":false,"zero":false},"axis":{"values":[1000,2500,5000,7500,10000],"format":"d","title":"iteration"}},
  "y":{"field":"d","type":"quantitative","scale":{"domain":[-0.086,0.849],"nice":false,"zero":false},"axis":{"values":[0,0.2,0.4,0.6],"format":".1f","title":"b13"}}}},
{"width":377,"height":93,"title":{"text":"(e) b₁₄"},
 "mark":{"type":"line"},
 "encoding":{
  "x":{"field":"i","type":"quantitative","scale":{"domain":[515,11475],"nice":false,"zero":false},"axis":{"values":[1000,2500,5000,7500,10000],"format":"d","title":"iteration"}},
  "y":{"field":"e","type":"quantitative","scale":{"domain":[-0.268,0.608],"nice":false,"zero":false},"axis":{"values":[-0.2,0,0.2,0.4],"labelExpr":"datum.value==-0.2?'-0.2':format(datum.value,'.1f')","title":"b14"}}}},
{"width":370,"height":93,"title":{"text":"(f) b₂₁"},
 "mark":{"type":"line"},
 "encoding":{
  "x":{"field":"i","type":"quantitative","scale":{"domain":[499,11205],"nice":false,"zero":false},"axis":{"values":[1000,2500,5000,7500,10000],"format":"d","title":"iteration"}},
  "y":{"field":"f","type":"quantitative","scale":{"domain":[-0.113,1.107],"nice":false,"zero":false},"axis":{"values":[0,0.2,0.4,0.6,0.8],"format":".1f","title":"b21"}}}}
],
"columns":2,
"spacing":{"row":78,"column":58},
"bounds":"flush",
"config":{
 "view":{"stroke":"#444","strokeWidth":1},
 "line":{"color":"#ff0000","strokeWidth":1.5},
 "axis":{"grid":false,"domain":false,"tickSize":3,"tickColor":"#444","labelFont":"Liberation Sans","labelFontSize":7.5,"labelColor":"#222","titleFont":"Liberation Sans","titleFontSize":8,"titleFontWeight":"normal","titleColor":"#222","labelPadding":2,"labelOverlap":false},
 "axisX":{"titlePadding":5,"labelFlush":false},
 "axisY":{"labelAngle":-90,"titlePadding":1},
 "title":{"font":"Liberation Serif, DejaVu Serif","fontSize":21,"fontWeight":"normal","color":"#000","orient":"bottom","anchor":"start","frame":"group","offset":10,"dx":172}
}
}
